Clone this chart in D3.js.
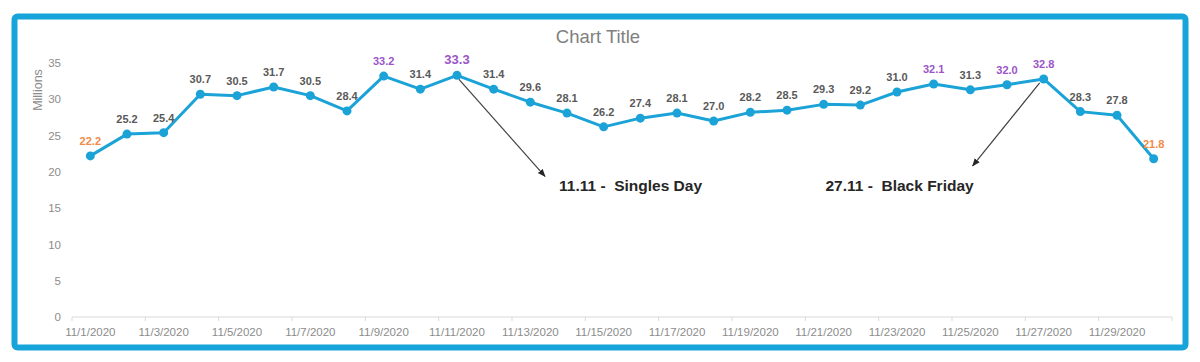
<!DOCTYPE html>
<html>
<head>
<meta charset="utf-8">
<script src="https://cdn.jsdelivr.net/npm/d3@7"></script>
<style>
  body { margin: 0; background: #fff; }
  svg { display: block; font-family: "Liberation Sans", Arial, sans-serif; }
</style>
</head>
<body>
<div id="chart"></div>
<script>
// daily values for November 2020, in millions
let dates = d3.range(1, 31).map(function(d) { return "11/" + d + "/2020"; });
let values = [22.2, 25.2, 25.4, 30.7, 30.5, 31.7, 30.5, 28.4, 33.2, 31.4,
              33.3, 31.4, 29.6, 28.1, 26.2, 27.4, 28.1, 27.0, 28.2, 28.5,
              29.3, 29.2, 31.0, 32.1, 31.3, 32.0, 32.8, 28.3, 27.8, 21.8];
// which labels get highlighted: "low" = orange, "high" = purple
let highlight = {0: "low", 29: "low", 8: "high", 10: "high", 23: "high", 25: "high", 26: "high"};
let yTicks = [0, 5, 10, 15, 20, 25, 30, 35];
let notes = [
  {index: 10, text: "11.11 -  Singles Day", dx: 88, dy: 101, tx: 102, anchor: "start"},
  {index: 26, text: "27.11 -  Black Friday", dx: -71, dy: 87, tx: -70, anchor: "end"}
];

let width = 1200, height = 362;
let plotLeft = 72, plotRight = 1172, plotTop = 63, plotBottom = 317;

let svg = d3.select("#chart").append("svg")
  .attr("width", width)
  .attr("height", height);

// outer frame
svg.append("rect")
  .attr("x", 14.5).attr("y", 16.5)
  .attr("width", 1171).attr("height", 331)
  .attr("rx", 3)
  .attr("fill", "#fff")
  .attr("stroke", "#16a4da")
  .attr("stroke-width", 6);

let x = d3.scaleBand().domain(d3.range(dates.length)).range([plotLeft, plotRight]);
let y = d3.scaleLinear().domain([0, 35]).range([plotBottom, plotTop]);
let cx = function(i) { return x(i) + x.bandwidth() / 2; };

// title
svg.append("text")
  .attr("x", 598).attr("y", 43)
  .attr("text-anchor", "middle")
  .attr("font-size", 18.5)
  .attr("fill", "#7f7f7f")
  .text("Chart Title");

// y axis labels
let yAxis = svg.append("g")
  .attr("transform", "translate(" + (plotLeft - 8) + ",0)")
  .call(d3.axisLeft(y).tickValues(yTicks).tickSize(0));
yAxis.select(".domain").remove();
yAxis.selectAll("text")
  .attr("font-size", 11.5)
  .attr("font-family", "Liberation Sans, Arial, sans-serif")
  .attr("fill", "#8c8c8c");

svg.append("text")
  .attr("transform", "translate(42,90) rotate(-90)")
  .attr("text-anchor", "middle")
  .attr("font-size", 12.5)
  .attr("fill", "#8c8c8c")
  .text("Millions");

// x axis: baseline, ticks every two days, labels under odd dates
let xAxis = svg.append("g").attr("transform", "translate(0," + plotBottom + ")");
xAxis.append("line")
  .attr("x1", plotLeft).attr("x2", plotRight)
  .attr("stroke", "#d9d9d9");
xAxis.selectAll(".tick")
  .data(d3.range(0, dates.length + 1, 2))
  .enter().append("line")
  .attr("class", "tick")
  .attr("x1", function(i) { return plotLeft + i * x.step(); })
  .attr("x2", function(i) { return plotLeft + i * x.step(); })
  .attr("y1", 0).attr("y2", 4)
  .attr("stroke", "#d9d9d9");
xAxis.selectAll(".xlbl")
  .data(d3.range(0, dates.length, 2))
  .enter().append("text")
  .attr("class", "xlbl")
  .attr("x", cx)
  .attr("y", 19)
  .attr("text-anchor", "middle")
  .attr("font-size", 11.5)
  .attr("fill", "#8c8c8c")
  .text(function(i) { return dates[i]; });

// the line and markers
let line = d3.line()
  .x(function(d, i) { return cx(i); })
  .y(function(d) { return y(d); });

svg.append("path")
  .datum(values)
  .attr("d", line)
  .attr("fill", "none")
  .attr("stroke", "#1ba3d8")
  .attr("stroke-width", 3)
  .attr("stroke-linejoin", "round");

svg.selectAll(".dot")
  .data(values)
  .enter().append("circle")
  .attr("class", "dot")
  .attr("cx", function(d, i) { return cx(i); })
  .attr("cy", function(d) { return y(d); })
  .attr("r", 4.5)
  .attr("fill", "#1ba3d8");

// data labels
let labelColor = {low: "#ef8a48", high: "#9b55c8"};
svg.selectAll(".lbl")
  .data(values)
  .enter().append("text")
  .attr("class", "lbl")
  .attr("x", function(d, i) { return cx(i); })
  .attr("y", function(d) { return y(d) - 11; })
  .attr("text-anchor", "middle")
  .attr("font-size", function(d, i) { return i == 10 ? 13 : 11; })
  .attr("font-weight", "bold")
  .attr("fill", function(d, i) { return highlight[i] ? labelColor[highlight[i]] : "#595959"; })
  .text(function(d) { return d.toFixed(1); });

// annotation arrows
svg.append("defs").append("marker")
  .attr("id", "arrow")
  .attr("viewBox", "0 0 10 10")
  .attr("refX", 9).attr("refY", 5)
  .attr("markerWidth", 8).attr("markerHeight", 8)
  .attr("markerUnits", "userSpaceOnUse")
  .attr("orient", "auto")
  .append("path")
  .attr("d", "M0,1 L10,5 L0,9 Z")
  .attr("fill", "#262626");

notes.forEach(function(n) {
  let x0 = cx(n.index), y0 = y(values[n.index]);
  let sx = n.dx > 0 ? x0 + 2 : x0 - 4;
  svg.append("line")
    .attr("x1", sx).attr("y1", y0 + 4)
    .attr("x2", x0 + n.dx).attr("y2", y0 + n.dy)
    .attr("stroke", "#404040")
    .attr("stroke-width", 1.2)
    .attr("marker-end", "url(#arrow)");
  svg.append("text")
    .attr("x", x0 + n.tx).attr("y", 191)
    .attr("text-anchor", n.anchor)
    .attr("font-size", 15.5)
    .attr("font-weight", "bold")
    .attr("fill", "#262626")
    .style("white-space", "pre")
    .text(n.text);
});
</script>
</body>
</html>
